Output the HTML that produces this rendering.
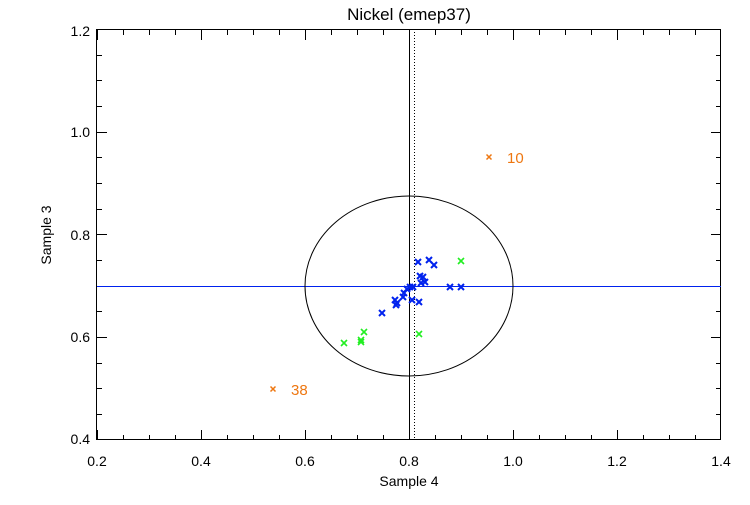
<!DOCTYPE html>
<html><head><style>body{margin:0;background:#fff}svg text{font-family:"Liberation Sans",sans-serif}</style></head><body>
<svg width="750" height="500" xmlns="http://www.w3.org/2000/svg">
<defs>
<g id="xb"><path d="M-3,-3L3,3M-3,3L3,-3" stroke="#0022ee" stroke-width="2"/></g>
<g id="xg"><path d="M-3,-3L3,3M-3,3L3,-3" stroke="#22ee22" stroke-width="1.6"/></g>
<g id="xo"><path d="M-2.5,-2.5L2.5,2.5M-2.5,2.5L2.5,-2.5" stroke="#ee7711" stroke-width="1.5"/></g>
</defs>
<rect x="96.5" y="29.5" width="624" height="410" fill="none" stroke="#000"/>
<path stroke="#000" fill="none" d="
M97.5,440V430M123.5,440V435M149.5,440V435M175.5,440V435M201.5,440V430M227.5,440V435M253.5,440V435M279.5,440V435M305.5,440V430M331.5,440V435M357.5,440V435M383.5,440V435M409.5,440V430M435.5,440V435M461.5,440V435M487.5,440V435M513.5,440V430M539.5,440V435M565.5,440V435M591.5,440V435M617.5,440V430M643.5,440V435M669.5,440V435M695.5,440V435
M97.5,30V40M123.5,30V35M149.5,30V35M175.5,30V35M201.5,30V40M227.5,30V35M253.5,30V35M279.5,30V35M305.5,30V40M331.5,30V35M357.5,30V35M383.5,30V35M409.5,30V40M435.5,30V35M461.5,30V35M487.5,30V35M513.5,30V40M539.5,30V35M565.5,30V35M591.5,30V35M617.5,30V40M643.5,30V35M669.5,30V35M695.5,30V35
M97,414.5H102M97,388.5H102M97,363.5H102M97,337.5H107M97,311.5H102M97,286.5H102M97,260.5H102M97,234.5H107M97,209.5H102M97,183.5H102M97,157.5H102M97,132.5H107M97,106.5H102M97,80.5H102M97,55.5H102
M721,414.5H716M721,388.5H716M721,363.5H716M721,337.5H711M721,311.5H716M721,286.5H716M721,260.5H716M721,234.5H711M721,209.5H716M721,183.5H716M721,157.5H716M721,132.5H711M721,106.5H716M721,80.5H716M721,55.5H716"/>
<line x1="409.5" y1="29" x2="409.5" y2="440" stroke="#000"/>
<line x1="414.5" y1="29" x2="414.5" y2="440" stroke="#000" stroke-dasharray="1,2"/>
<line x1="97" y1="286.5" x2="721" y2="286.5" stroke="#0022ee"/>
<ellipse cx="409" cy="286" rx="104" ry="90" fill="none" stroke="#000"/>
<g fill="#000" font-size="14" text-anchor="middle">
<text x="97" y="466">0.2</text><text x="201" y="466">0.4</text><text x="305" y="466">0.6</text><text x="409" y="466">0.8</text><text x="513" y="466">1.0</text><text x="617" y="466">1.2</text><text x="721" y="466">1.4</text>
</g>
<g fill="#000" font-size="14" text-anchor="end">
<text x="90" y="36">1.2</text><text x="90" y="137">1.0</text><text x="90" y="240">0.8</text><text x="90" y="342">0.6</text><text x="90" y="444">0.4</text>
</g>
<text x="409" y="486" font-size="14" text-anchor="middle">Sample 4</text>
<text x="51" y="235" font-size="14" text-anchor="middle" transform="rotate(-90 51 235)">Sample 3</text>
<text x="409" y="20" font-size="17" text-anchor="middle">Nickel (emep37)</text>
<g>
<use href="#xb" x="418" y="262"/><use href="#xb" x="429" y="260"/><use href="#xb" x="434" y="265"/><use href="#xb" x="420" y="276"/><use href="#xb" x="423" y="277"/><use href="#xb" x="425" y="282"/><use href="#xb" x="421" y="283"/><use href="#xb" x="410" y="287"/><use href="#xb" x="413" y="287"/><use href="#xb" x="407" y="289"/><use href="#xb" x="404" y="293"/><use href="#xb" x="450" y="287"/><use href="#xb" x="461" y="287"/><use href="#xb" x="403" y="297"/><use href="#xb" x="395" y="300"/><use href="#xb" x="397" y="303"/><use href="#xb" x="396" y="305"/><use href="#xb" x="412" y="300"/><use href="#xb" x="419" y="302"/><use href="#xb" x="382" y="313"/>
<use href="#xg" x="461" y="261"/><use href="#xg" x="419" y="334"/><use href="#xg" x="364" y="332"/><use href="#xg" x="361" y="340"/><use href="#xg" x="361" y="342"/><use href="#xg" x="344" y="343"/>
<use href="#xo" x="489" y="157"/><use href="#xo" x="273" y="389"/>
</g>
<text x="507" y="163" font-size="15" fill="#ee7711">10</text>
<text x="291" y="395" font-size="15" fill="#ee7711">38</text>
</svg>
</body></html>
